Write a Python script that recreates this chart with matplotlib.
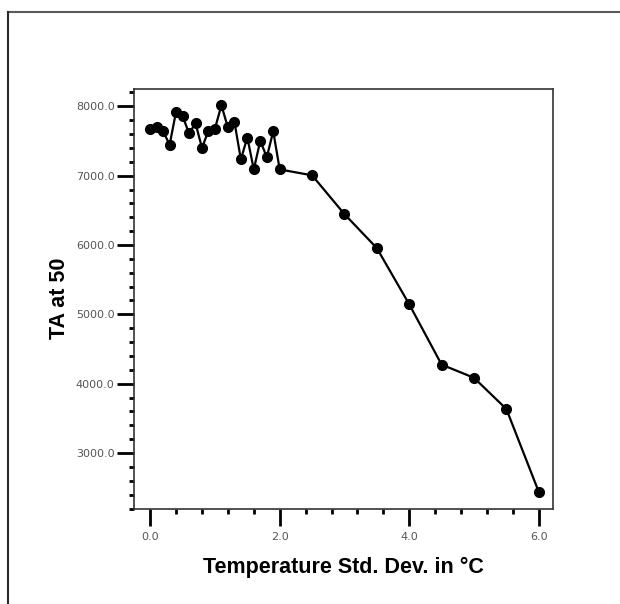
import numpy as np
import matplotlib
matplotlib.use('Agg')
import matplotlib.pyplot as plt
from matplotlib.ticker import MultipleLocator, FormatStrFormatter
from matplotlib.lines import Line2D

# temperature standard deviation (deg C) and TA at 50
temp_sd = [0.0, 0.1, 0.2, 0.3, 0.4, 0.5, 0.6, 0.7, 0.8, 0.9, 1.0,
           1.1, 1.2, 1.3, 1.4, 1.5, 1.6, 1.7, 1.8, 1.9, 2.0,
           2.5, 3.0, 3.5, 4.0, 4.5, 5.0, 5.5, 6.0]
ta_50 = [7670, 7695, 7640, 7445, 7925, 7860, 7610, 7755, 7400, 7650, 7680,
         8015, 7695, 7780, 7235, 7550, 7090, 7505, 7265, 7640, 7090,
         7005, 6445, 5955, 5145, 4275, 4085, 3635, 2440]

fig = plt.figure(figsize=(6.2, 6.04), dpi=100)
fig.patch.set_facecolor('white')

# outer frame, only the top and left edges show in the picture
fig.add_artist(Line2D([8 / 620, 1.0], [1 - 12 / 604, 1 - 12 / 604],
                      transform=fig.transFigure, color='#5a5a5a', lw=1.5))
fig.add_artist(Line2D([8 / 620, 8 / 620], [0.0, 1 - 12 / 604],
                      transform=fig.transFigure, color='#2a2a2a', lw=1.5))

ax = fig.add_axes([134 / 620, 1 - 508.5 / 604, 419 / 620, 419.5 / 604])
ax.plot(temp_sd, ta_50, color='black', lw=1.6, marker='o', ms=7,
        markerfacecolor='black', markeredgecolor='black')

ax.set_xlim(-0.25, 6.22)
ax.set_ylim(2200, 8250)

ax.xaxis.set_major_locator(MultipleLocator(2.0))
ax.xaxis.set_minor_locator(MultipleLocator(0.4))
ax.yaxis.set_major_locator(MultipleLocator(1000))
ax.yaxis.set_minor_locator(MultipleLocator(200))
ax.xaxis.set_major_formatter(FormatStrFormatter('%.1f'))
ax.yaxis.set_major_formatter(FormatStrFormatter('%.1f'))

ax.tick_params(which='major', length=12, width=2, color='black',
               labelsize=8, labelcolor='#555555', pad=2)
ax.tick_params(axis='x', which='major', pad=5)
ax.tick_params(which='minor', length=3.5, width=2, color='black')
ax.tick_params(top=False, right=False, which='both')

for s in ax.spines.values():
    s.set_color('#333333')
    s.set_linewidth(1.2)

ax.set_xlabel('Temperature Std. Dev. in °C', fontsize=15.5, fontweight='bold',
              family='Liberation Sans', labelpad=11)
ax.set_ylabel('TA at 50', fontsize=15.5, fontweight='bold',
              family='Liberation Sans', labelpad=4)

fig.savefig('out.png', dpi=100, facecolor='white')
